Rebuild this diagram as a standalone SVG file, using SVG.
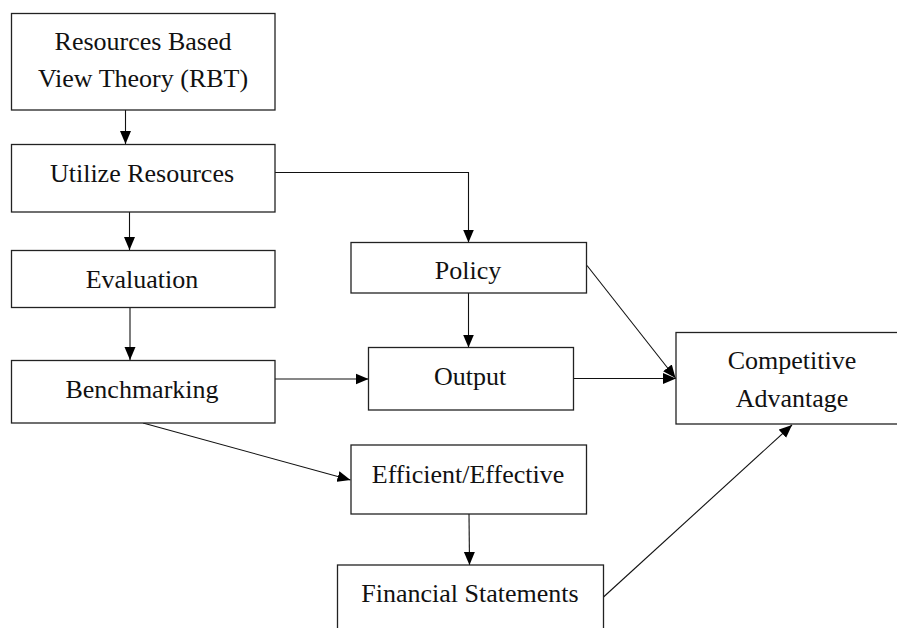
<svg xmlns="http://www.w3.org/2000/svg" width="897" height="628" viewBox="0 0 897 628">
  <defs>
    <marker id="arrow" markerWidth="14" markerHeight="12" refX="13" refY="6" orient="auto" markerUnits="userSpaceOnUse">
      <path d="M0,0.5 L13,6 L0,11.5 Z" fill="#000"/>
    </marker>
  </defs>
  <style>
    .box { fill: #fff; stroke: #222; stroke-width: 1.3; }
    .label { font-family: "Liberation Serif", "Times New Roman", serif; font-size: 26px; fill: #111; text-anchor: middle; }
    .link { fill: none; stroke: #111; stroke-width: 1.1; marker-end: url(#arrow); }
  </style>
  <rect width="897" height="628" fill="#fff"/>

  <g id="connectors">
    <line class="link" x1="125.5" y1="110" x2="125.5" y2="144"/>
    <polyline class="link" points="273,172.5 468.5,172.5 468.5,242.5"/>
    <line class="link" x1="129.5" y1="212" x2="129.5" y2="250"/>
    <line class="link" x1="130" y1="308" x2="130" y2="360"/>
    <line class="link" x1="468.5" y1="293" x2="468.5" y2="347.5"/>
    <line class="link" x1="275" y1="379" x2="368.5" y2="379"/>
    <line class="link" x1="573" y1="378.5" x2="676" y2="378.5"/>
    <line class="link" x1="587" y1="265.5" x2="675.5" y2="378"/>
    <line class="link" x1="143" y1="423" x2="350.5" y2="480"/>
    <line class="link" x1="469" y1="514" x2="469.5" y2="565"/>
    <line class="link" x1="603.5" y1="597" x2="792" y2="425"/>
  </g>

  <g id="rbt">
    <rect class="box" x="11.5" y="13.5" width="263.5" height="96.5"/>
    <text class="label" x="143" y="50">Resources Based</text>
    <text class="label" x="143" y="87">View Theory (RBT)</text>
  </g>
  <g id="utilize">
    <rect class="box" x="11.5" y="144.5" width="263.5" height="67.5"/>
    <text class="label" x="142" y="182">Utilize Resources</text>
  </g>
  <g id="evaluation">
    <rect class="box" x="11.5" y="250.5" width="263.5" height="57"/>
    <text class="label" x="142" y="288">Evaluation</text>
  </g>
  <g id="benchmarking">
    <rect class="box" x="11.5" y="360.5" width="263.5" height="62.5"/>
    <text class="label" x="142" y="398">Benchmarking</text>
  </g>
  <g id="policy">
    <rect class="box" x="351" y="242.5" width="235.5" height="50.5"/>
    <text class="label" x="468" y="279">Policy</text>
  </g>
  <g id="output">
    <rect class="box" x="368.5" y="347.5" width="205" height="62.5"/>
    <text class="label" x="470" y="385">Output</text>
  </g>
  <g id="efficient">
    <rect class="box" x="351" y="445" width="235.5" height="69"/>
    <text class="label" x="468" y="483">Efficient/Effective</text>
  </g>
  <g id="financial">
    <rect class="box" x="337.5" y="565" width="266" height="80"/>
    <text class="label" x="470" y="602">Financial Statements</text>
  </g>
  <g id="competitive">
    <rect class="box" x="676" y="332.5" width="240" height="91.5"/>
    <text class="label" x="792" y="369">Competitive</text>
    <text class="label" x="792" y="407">Advantage</text>
  </g>
</svg>
